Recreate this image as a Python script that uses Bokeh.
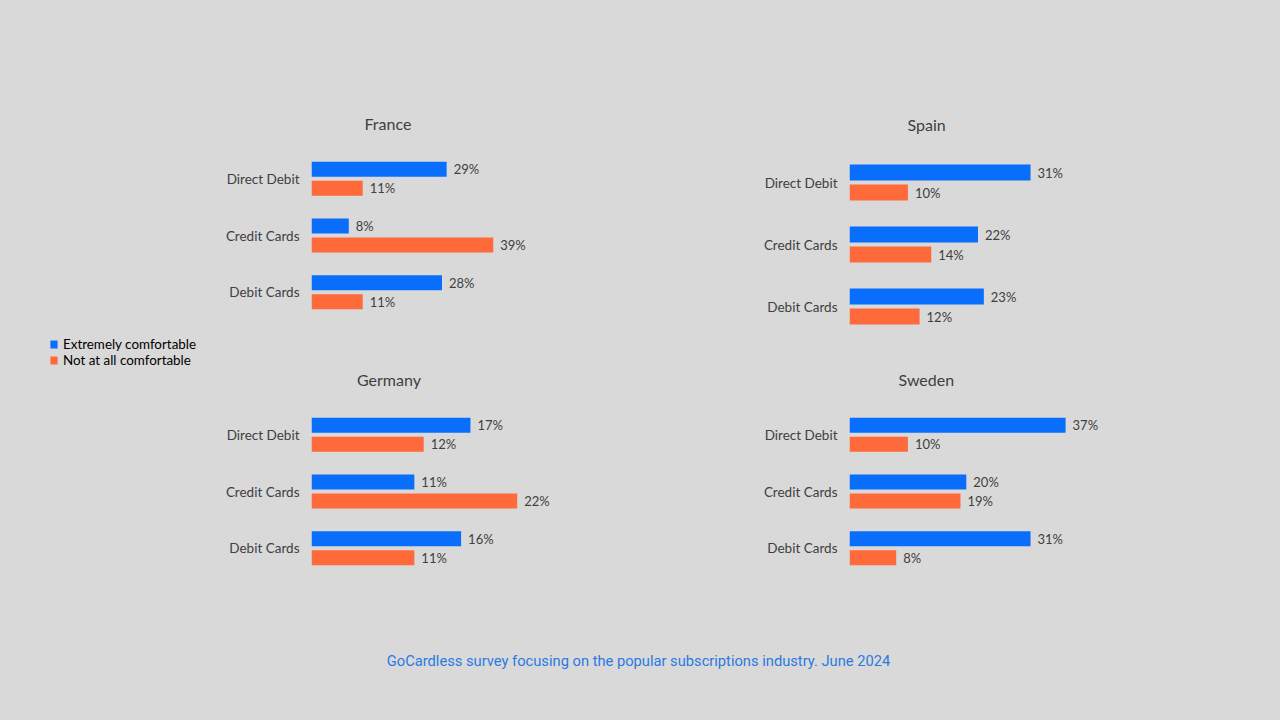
from bokeh.plotting import figure
from bokeh.layouts import column, row
from bokeh.models import Range1d, FactorRange, Legend, LegendItem, Label, ColumnDataSource
from bokeh.transform import dodge
from bokeh.core.properties import value
from bokeh.embed import file_html
from bokeh.resources import INLINE

# ---- data ----
categories = ["Direct Debit", "Credit Cards", "Debit Cards"]
series_names = ["Extremely comfortable", "Not at all comfortable"]
france_extremely = [29, 8, 28]
france_not = [11, 39, 11]
spain_extremely = [31, 22, 23]
spain_not = [10, 14, 12]
germany_extremely = [17, 11, 16]
germany_not = [12, 22, 11]
sweden_extremely = [37, 20, 31]
sweden_not = [10, 19, 8]
footer_text = "GoCardless survey focusing on the popular subscriptions industry. June 2024"

# ---- style ----
BG = "#d9d9d9"
BLUE = "#0a6efd"
ORANGE = "#ff6a3b"
TXT = "#404040"
FONT = "Lato"


def style_fig(p):
    p.background_fill_color = BG
    p.border_fill_color = BG
    p.outline_line_color = None
    p.grid.visible = False


def panel(name, ext, notc, x_end, width, height, left, top, bottom, bar_h, off, title_offset):
    p = figure(width=width, height=height, output_backend="svg", toolbar_location=None, tools="",
               y_range=FactorRange(factors=list(reversed(categories))), x_range=Range1d(0, x_end),
               min_border_left=left, min_border_right=0, min_border_top=top, min_border_bottom=bottom)
    style_fig(p)
    src = ColumnDataSource(dict(cat=categories, ext=ext, notc=notc,
                                ext_lbl=[f"{v}%" for v in ext], not_lbl=[f"{v}%" for v in notc]))
    p.hbar(y=dodge("cat", off, range=p.y_range), left=0, right="ext", height=bar_h,
           fill_color=BLUE, line_color=None, source=src)
    p.hbar(y=dodge("cat", -off, range=p.y_range), left=0, right="notc", height=bar_h,
           fill_color=ORANGE, line_color=None, source=src)
    for col, lbl, o in (("ext", "ext_lbl", off), ("notc", "not_lbl", -off)):
        p.text(x=col, y=dodge("cat", o, range=p.y_range), text=lbl,
               x_offset=7, text_baseline="middle", text_align="left",
               text_font=value(FONT), text_font_size="13px", text_color=TXT, source=src)
    p.xaxis.visible = False
    ax = p.yaxis[0]
    ax.axis_line_color = None
    ax.major_tick_line_color = None
    ax.minor_tick_line_color = None
    ax.major_tick_out = 0
    ax.major_tick_in = 0
    ax.major_label_standoff = 12
    ax.major_label_text_font = FONT
    ax.major_label_text_font_size = "13.5px"
    ax.major_label_text_color = TXT
    p.title.text = name
    p.title.align = "left"
    p.title.offset = title_offset
    p.title.standoff = 35
    p.title.text_font = FONT
    p.title.text_font_size = "16px"
    p.title.text_font_style = "normal"
    p.title.text_color = TXT
    return p


U1 = 170 / 3.0  # px per category (France/Germany/Sweden)
U2 = 186 / 3.0  # px per category (Spain)

# middle column (x 200..640): frame left at 311
france = panel("France", france_extremely, france_not, 329 / 4.66, 440, 335, 111, 150, 15,
               15 / U1, 9.5 / U1, 53)
germany = panel("Germany", germany_extremely, germany_not, 329 / 9.35, 440, 245, 111, 71, 4,
                15 / U1, 9.5 / U1, 45.5)
# right column (x 640..1280): frame left at 849
spain = panel("Spain", spain_extremely, spain_not, 431 / 5.84, 640, 337, 209, 151, 0,
              16 / U2, 10 / U2, 58)
sweden = panel("Sweden", sweden_extremely, sweden_not, 431 / 5.84, 640, 243, 209, 69, 4,
               15 / U1, 9.5 / U1, 49)

# left column (x 0..200): shared legend
lf = figure(width=200, height=580, output_backend="svg", toolbar_location=None, tools="",
            x_range=Range1d(0, 1), y_range=Range1d(0, 1), x_axis_location=None, y_axis_location=None,
            min_border_left=0, min_border_right=0, min_border_top=0, min_border_bottom=0)
style_fig(lf)
r1 = lf.hbar(y=[0.5], left=[0], right=[0], height=0.1, fill_color=BLUE, line_color=None)
r2 = lf.hbar(y=[0.5], left=[0], right=[0], height=0.1, fill_color=ORANGE, line_color=None)
leg = Legend(items=[LegendItem(label=series_names[0], renderers=[r1]),
                    LegendItem(label=series_names[1], renderers=[r2])],
             location=(49, 212), padding=0, margin=0, spacing=-2, label_height=16,
             glyph_height=10, glyph_width=9, label_standoff=5,
             label_text_font=FONT, label_text_font_size="13.4px", label_text_color="#000000",
             border_line_alpha=0, background_fill_alpha=0)
lf.add_layout(leg)

# footer row
ff = figure(width=1280, height=136, output_backend="svg", toolbar_location=None, tools="",
            x_range=Range1d(0, 1), y_range=Range1d(0, 1), x_axis_location=None, y_axis_location=None,
            min_border_left=0, min_border_right=0, min_border_top=0, min_border_bottom=0)
style_fig(ff)
ff.add_layout(Label(x=638, y=56, x_units="screen", y_units="screen", text=footer_text,
                    text_align="center", text_baseline="middle", text_font="Roboto",
                    text_font_size="14.7px", text_color="#2a7ae2"))

layout = column(row(column(lf), column(france, germany), column(spain, sweden)), ff)

html = file_html(layout, INLINE)
html = html.replace("</head>", "<style>html,body{background:#d9d9d9;}</style></head>", 1)
open("out.html", "w").write(html)
